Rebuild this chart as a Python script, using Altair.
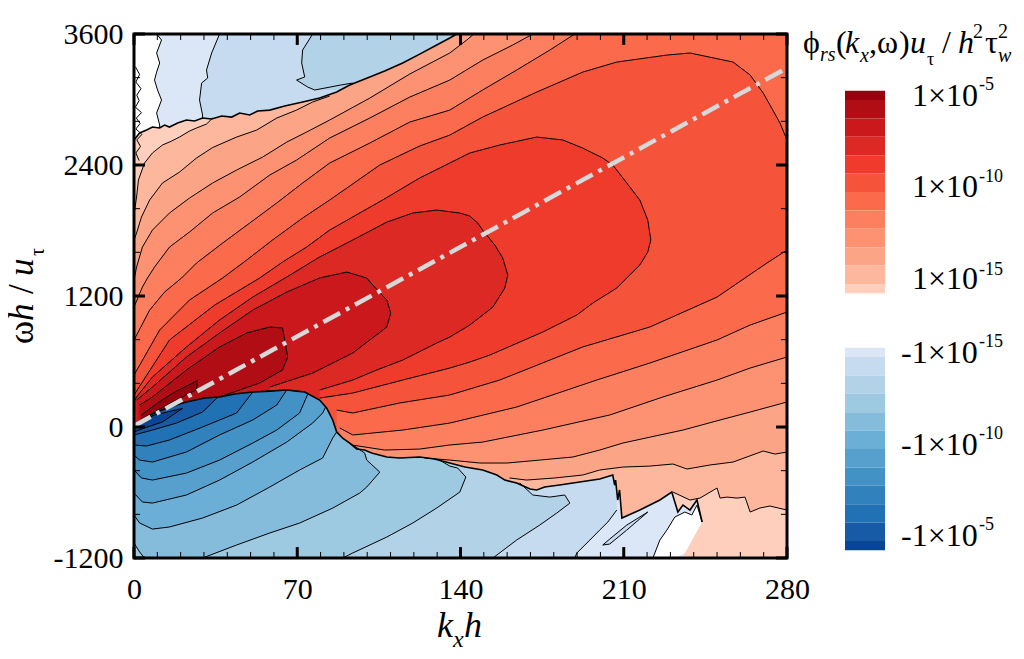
import altair as alt
import numpy as np
import pandas as pd

SERIF = "Liberation Serif"
XMIN, XMAX, YMIN, YMAX = 0, 280, -1200, 3600

X_MAJOR = [0, 70, 140, 210, 280]
X_MINOR = [10, 20, 30, 40, 50, 60, 80, 90, 100, 110, 120, 130, 150, 160, 170, 180, 190, 200, 220, 230, 240, 250, 260, 270]
Y_MAJOR = [-1200, 0, 1200, 2400, 3600]
Y_MINOR = [-800, -400, 400, 800, 1600, 2000, 2800, 3200]

RED_COLORS = ["#99000d", "#b00d14", "#cb181d", "#dc2924", "#ef3b2c", "#f6533b", "#fb6a4a", "#fc8060", "#fc9272", "#fca486", "#fcb79c", "#fdcfbc"]
BLUE_COLORS = ["#dbe6f6", "#c6dbef", "#b1d2e7", "#9ecae1", "#85bcdb", "#6baed6", "#57a0ce", "#4292c6", "#3181bd", "#2171b5", "#175ba6", "#084594"]
RED_IDS = [f"R{i}" for i in range(1, 13)]
BLUE_IDS = [f"N{i}" for i in range(12, 0, -1)]
RED_EDGES = [-4.7, -5.2, -6.2, -7.2, -8.2, -9.2, -10.2, -11.2, -12.2, -13.2, -14.2, -15.2, -15.7]
BLUE_EDGES = [-15.7, -15.2, -14.2, -13.2, -12.2, -11.2, -10.2, -9.2, -8.2, -7.2, -6.2, -5.2, -4.7]

RIDGE_X = [0, 280]
RIDGE_Y = [10, 3289]

# zero line between the upper negative patch and the positive region
TOP_X = [0, 2.4, 5.4, 7.9, 11, 13.1, 15.2, 18.7, 22.5, 26, 29.4, 33.3, 37.6, 41.9, 45.3, 49.6, 53, 58.2, 64.6, 72.3, 79.6, 86.9, 92.5, 101.1, 107.5, 115.2, 122.5, 129.8, 135.4, 138.4]
TOP_Y = [2629, 2693, 2720, 2748, 2739, 2766, 2748, 2784, 2812, 2803, 2830, 2821, 2849, 2839, 2876, 2858, 2894, 2903, 2940, 2977, 3013, 3068, 3132, 3206, 3261, 3334, 3416, 3499, 3563, 3600]
# zero line between the positive region and the lower negative region
LOW_X = [0, 6.7, 15.2, 22.5, 30.3, 36.7, 43.1, 50.9, 58.2, 65.5, 69.7, 73.2, 79.6, 82.6, 85.2, 86.9, 89.5, 92.5, 95.5, 98.9, 101.9, 108.4, 113.9, 122.5, 128.9, 135.4, 141.9, 149.5, 155.6, 159, 164.1, 169.8, 172.7, 176.1, 182.5, 191.1, 199.7, 205.3, 206.1, 206.5, 207.4, 208.2, 209.2, 216.9, 225.5, 230.6, 233.2, 235.4, 238.4, 241.4, 243.6]
LOW_Y = [27, 110, 183, 229, 265, 275, 302, 320, 329, 339, 329, 320, 247, 174, 64, -46, -101, -147, -202, -211, -238, -275, -284, -275, -293, -330, -367, -394, -440, -486, -513, -568, -577, -550, -532, -504, -477, -440, -532, -486, -669, -577, -834, -761, -669, -596, -779, -715, -761, -669, -870]

# positive contours, outermost first
A_UP_X = [0, 1.1, 1.9, 4.5, 7.9, 12.2, 16.1, 19.5, 23.8, 26.8, 31.1, 33.7]
A_UP_Y = [1942, 2107, 2262, 2418, 2510, 2583, 2619, 2656, 2711, 2739, 2775, 2830]
A_LOW_X = [231.1, 238.4, 242.7, 250, 251.3, 254.3, 258.6, 262, 264.2, 268.4, 272.7, 280]
A_LOW_Y = [-596, -669, -651, -559, -651, -642, -651, -642, -779, -742, -724, -761]
B_UP_X = [0, 1.1, 3.2, 6.7, 12.2, 19.5, 26.8, 33.7, 44, 52.6, 61.2, 69.7, 76.6, 83.9]
B_UP_Y = [1713, 1777, 1923, 2079, 2235, 2335, 2464, 2560, 2656, 2720, 2830, 2903, 2977, 3032]
B_LOW_X = [161, 168.3, 180.4, 192.4, 199.7, 209.6, 221.2, 231.1, 237.1, 247, 256.9, 269.8, 274.9, 280]
B_LOW_Y = [-467, -486, -467, -440, -394, -367, -358, -339, -385, -348, -321, -220, -248, -229]
C_UP_X = [0, 1.1, 3.6, 7.9, 15.2, 23.8, 33.7, 44, 55.2, 65.5, 74, 83.9, 101.1, 118.2, 135.4, 142.7, 145.7]
C_UP_Y = [1346, 1465, 1648, 1804, 1960, 2097, 2235, 2354, 2473, 2610, 2702, 2812, 3013, 3233, 3426, 3545, 3600]
C_LOW_X = [124.6, 135.4, 148.3, 159.9, 174, 188.2, 199.7, 209.6, 223.4, 235.4, 251.3, 264.2, 280]
C_LOW_Y = [-284, -303, -330, -330, -303, -275, -211, -147, -83, -28, 64, 137, 229]
D_UP_X = [0, 3.6, 5.8, 8.8, 15.2, 23.8, 33.7, 45.3, 58.2, 69.7, 83.9, 101.1, 118.2, 135.4, 149.5, 162.4, 171]
D_UP_Y = [1099, 1282, 1365, 1465, 1648, 1786, 1960, 2107, 2308, 2445, 2647, 2830, 3022, 3178, 3361, 3499, 3600]
D_LOW_X = [93.4, 107.5, 122.5, 135.4, 149.5, 175.3, 204, 226.8, 250, 264.2, 280]
D_LOW_Y = [-165, -211, -202, -165, -138, -28, 110, 275, 430, 540, 641]
E_UP_X = [0, 6.7, 13.1, 20.4, 26.8, 38, 49.6, 61.2, 72.3, 83.9, 101.1, 118.2, 135.4, 149.5, 164.1, 178.3, 189]
E_UP_Y = [797, 1071, 1236, 1365, 1502, 1685, 1868, 2052, 2235, 2418, 2601, 2793, 2903, 3087, 3270, 3453, 3600]
E_LOW_X = [88.2, 93.8, 115.2, 135.4, 164.1, 198.4, 221.2, 250, 264.2, 280]
E_LOW_Y = [-9, -73, -28, 36, 183, 430, 586, 797, 934, 1053]
F_UP_X = [0, 11, 23.8, 38, 48.3, 59.4, 72.3, 83.9, 105.4, 122.5, 135.4, 149.5, 172.7, 192.4, 207, 228.5, 238.4, 256.9, 264.2, 269.8, 272.7, 277, 280]
F_UP_Y = [476, 888, 1163, 1365, 1529, 1713, 1914, 2079, 2400, 2574, 2674, 2839, 3068, 3251, 3343, 3407, 3426, 3343, 3224, 3059, 2949, 2784, 2629]
F_LOW_X = [86.9, 93.8, 113.9, 135.4, 156.8, 192.4, 221.2, 250, 271.4, 280]
F_LOW_Y = [155, 128, 220, 293, 430, 733, 916, 1190, 1502, 1621]
G_UP_X = [0, 15.2, 34.6, 53.9, 63.7, 74, 83.9, 106.6, 122.5, 135.4, 144, 156.8, 172.7, 183.9, 192.4, 201, 205.3, 211.3, 216.9, 220.3, 221.6]
G_UP_Y = [293, 797, 1117, 1365, 1511, 1648, 1804, 2079, 2281, 2418, 2510, 2583, 2656, 2629, 2555, 2464, 2400, 2235, 2079, 1896, 1713]
G_LOW_X = [79.6, 93.8, 115.2, 135.4, 144, 152.6, 165.4, 175.3, 189.9, 196.7, 207, 216.9, 220.3, 221.6]
G_LOW_Y = [265, 311, 430, 540, 595, 659, 778, 870, 1026, 1135, 1273, 1484, 1603, 1713]
H_UP_X = [0, 1.1, 7.9, 22.5, 36.7, 50.9, 65.5, 79.6, 93.8, 108.4, 119.5, 129.8, 139.7, 144, 147.4, 149.5, 154.7, 158.1, 160.3]
H_UP_Y = [230, 275, 458, 733, 980, 1190, 1374, 1557, 1713, 1877, 1960, 1987, 1960, 1932, 1868, 1804, 1667, 1548, 1392]
H_LOW_X = [79.6, 93.8, 104.1, 115.2, 129.8, 135.4, 144, 153.9, 159, 160.3]
H_LOW_Y = [339, 430, 522, 613, 769, 824, 934, 1099, 1273, 1392]
I_UP_X = [1.1, 7.9, 22.5, 36.7, 50.9, 65.5, 79.6, 91.2, 99.8, 102.4, 108.4, 110.1]
I_UP_Y = [247, 366, 641, 861, 1071, 1236, 1365, 1419, 1365, 1300, 1163, 1044]
I_LOW_X = [58.2, 76.6, 93.8, 108.4, 110.1]
I_LOW_Y = [366, 494, 678, 916, 1044]
J_UP_X = [2.4, 7.9, 22.5, 36.7, 48.3, 58.2, 63.7, 64.6, 65.9]
J_UP_Y = [201, 275, 522, 733, 861, 916, 907, 797, 641]
J_LOW_X = [36.7, 53.9, 63.7, 65.9]
J_LOW_Y = [275, 403, 522, 641]
K_UP_X = [3.2, 10.1, 17.4, 26, 27.3]
K_UP_Y = [110, 220, 320, 412, 430]
K_LOW_X = [4.5, 10.1, 17.4, 23.8, 26.8, 27.3]
K_LOW_Y = [64, 155, 238, 311, 339, 430]

# lower negative contours
WHITE_UP_X = [222.5, 225.5, 228.5, 231.9, 236.2, 239.2, 241.4, 243.6]
WHITE_UP_Y = [-1200, -1035, -944, -825, -779, -806, -715, -870]
TIP_LOW_X = [235, 243.6]
TIP_LOW_Y = [-1200, -870]
L10_X = [189, 189.9, 195.5, 199.7, 203.2, 207]
L10_Y = [-1200, -1154, -1035, -944, -870, -761]
SLIVER_X = [201, 204, 211.3, 220.3]
SLIVER_UP = [-1081, -1026, -898, -779]
SLIVER_LOW = [-1081, -1072, -944, -779]
N10_UP_X = [165.4, 171, 178.3, 184.7, 186.9]
N10_UP_Y = [-513, -623, -642, -623, -697]
N10_LOW_X = [153.9, 164.1, 174, 181.3, 186.9]
N10_LOW_Y = [-1200, -1035, -898, -788, -697]
N9_UP_X = [131, 135.4, 138.8, 142.3]
N9_UP_Y = [-303, -358, -376, -458]
N9_LOW_X = [89.5, 93.8, 108.4, 119.5, 129.8, 139.7, 142.3]
N9_LOW_Y = [-1200, -1154, -1008, -880, -742, -596, -458]
N8_UP_X = [92.5, 98.9, 99.8, 105.4]
N8_UP_Y = [-147, -238, -303, -413]
N8_LOW_X = [29.4, 44, 58.2, 71, 85.2, 96.8, 99.8, 105.4]
N8_LOW_Y = [-1200, -1081, -971, -880, -743, -605, -550, -413]
CORNER_X = [0, 2.4, 4.5]
CORNER_Y = [-1063, -1145, -1200]
N7_X = [0, 2.4, 7.9, 15.2, 29.4, 44, 58.2, 71, 80.9, 85.2, 86.9]
N7_Y = [-806, -879, -935, -916, -834, -715, -550, -394, -284, -101, -46]
N6_X = [0, 3.6, 7.9, 22.5, 36.7, 50.9, 65.5, 76.6, 80.9, 82.2]
N6_Y = [-605, -687, -697, -623, -486, -321, -138, 36, 128, 184]
N5_X = [0, 3.2, 7.9, 22.5, 36.7, 50.9, 61.2, 71, 74.5]
N5_Y = [-394, -467, -486, -422, -303, -147, -28, 128, 300]
N4_X = [0, 2.4, 7.9, 22.5, 36.7, 50.9, 61.2, 65.5]
N4_Y = [-257, -303, -321, -229, -73, 64, 201, 339]
N3_X = [0, 5.4, 15.2, 29.4, 44, 50.9]
N3_Y = [-165, -174, -119, 0, 128, 320]
N2_X = [0, 7.9, 18.2, 29.4, 35.8]
N2_Y = [-73, -28, 36, 137, 270]
N1_UP_X = [0, 8.8, 20.8]
N1_UP_Y = [27, 110, 170]
N1_LOW_X = [0, 4.5, 12.2, 20.8]
N1_LOW_Y = [-46, -9, 46, 170]

# upper negative patch: left edges, read against omega
P12_Y = [3600, 3545, 3426, 3334, 3251, 3178, 3087, 2995, 2876, 2766, 2674]
P12_X = [9.7, 11.8, 9.7, 11, 9.7, 8.8, 10.1, 11.8, 9.7, 11, 11]
P11_Y = [3600, 3426, 3270, 3197, 3151, 2995, 2858, 2674]
P11_X = [36.7, 33.3, 31.1, 31.6, 29, 28.1, 29.4, 29.4]
P10_Y = [3600, 3453, 3334, 3206, 3178, 3114, 3087]
P10_X = [76.6, 72.3, 71.9, 73.2, 69.7, 74.5, 77.5]
P10_TAIL_X = [88.5, 93.8]
P10_TAIL_Y = [3132, 3151]

# speckle along the left axis
SPECK_X = [0.6, 2.4, 0.8, 3, 1.2, 2.2, 0.6, 3.2, 1, 2.6, 0.8, 3.4, 1.2, 2.8, 0.8, 2.2]
SPECK_Y = [3300, 3230, 3160, 3100, 3040, 2990, 2930, 2880, 2830, 2780, 2730, 2680, 2630, 2570, 2510, 2440]

XS = alt.Scale(domain=[XMIN, XMAX], nice=False, zero=False)
YS = alt.Scale(domain=[YMIN, YMAX], nice=False, zero=False)
COLOR = alt.Color("band:N", scale=alt.Scale(domain=RED_IDS + BLUE_IDS, range=RED_COLORS + BLUE_COLORS), legend=None)
X = alt.X("x:Q", scale=XS, axis=None)
Y = alt.Y("y:Q", scale=YS, axis=None)


def red_band(band, ux, uy, lx, ly):
    lo, hi = min(ux[0], lx[0]), max(ux[-1], lx[-1])
    xs = np.union1d(np.union1d(ux, lx), TOP_X)
    xs = np.union1d(xs, [lx[0] - 0.01])
    xs = xs[(xs >= lo) & (xs <= hi)]
    up = np.minimum(np.interp(xs, ux, uy, right=YMAX), np.interp(xs, TOP_X, TOP_Y, right=YMAX))
    low = np.interp(xs, lx, ly, left=YMIN)
    df = pd.DataFrame({"x": xs, "y": low, "y2": up, "band": band})
    return alt.Chart(df).mark_area(clip=True).encode(x=X, y=Y, y2="y2:Q", color=COLOR)


def blue_band(band, lx, ly, ux=None, uy=None, x0=0.0):
    xs = np.union1d(lx, LOW_X)
    if ux is not None:
        xs = np.union1d(xs, ux)
    xs = xs[(xs >= x0) & (xs <= lx[-1])]
    up = np.interp(xs, LOW_X, LOW_Y)
    if ux is not None:
        up = np.minimum(up, np.interp(xs, ux, uy, left=YMAX))
    low = np.interp(xs, lx, ly, left=YMIN)
    df = pd.DataFrame({"x": xs, "y": low, "y2": up, "band": band})
    return alt.Chart(df).mark_area(clip=True).encode(x=X, y=Y, y2="y2:Q", color=COLOR)


def patch(band, py, px):
    df = pd.DataFrame({"y": py, "x": px, "x2": XMAX, "band": band})
    return alt.Chart(df).mark_area(clip=True, orient="horizontal").encode(x=X, x2="x2:Q", y=Y, color=COLOR)


def lines(groups, width):
    rows = []
    for gid, (gx, gy) in enumerate(groups):
        for i, (a, b) in enumerate(zip(gx, gy)):
            rows.append({"g": gid, "i": i, "x": a, "y": b})
    return alt.Chart(pd.DataFrame(rows)).mark_line(clip=True, color="black", strokeWidth=width).encode(
        x=X, y=Y, detail="g:N", order="i:Q")


layers = [
    patch("N12", P12_Y, P12_X),
    patch("N11", P11_Y, P11_X),
    patch("N10", P10_Y, P10_X),
    lines([(P12_X, P12_Y), (P11_X, P11_Y), (P10_X + P10_TAIL_X, P10_Y + P10_TAIL_Y)], 1),
    red_band("R12", [XMIN, XMAX], [YMAX, YMAX], [XMIN, XMAX], [YMIN, YMIN]),
    red_band("R11", A_UP_X, A_UP_Y, A_LOW_X, A_LOW_Y),
    red_band("R10", B_UP_X, B_UP_Y, B_LOW_X, B_LOW_Y),
    red_band("R9", C_UP_X, C_UP_Y, C_LOW_X, C_LOW_Y),
    red_band("R8", D_UP_X, D_UP_Y, D_LOW_X, D_LOW_Y),
    red_band("R7", E_UP_X, E_UP_Y, E_LOW_X, E_LOW_Y),
    red_band("R6", F_UP_X, F_UP_Y, F_LOW_X, F_LOW_Y),
    red_band("R5", G_UP_X, G_UP_Y, G_LOW_X, G_LOW_Y),
    red_band("R4", H_UP_X, H_UP_Y, H_LOW_X, H_LOW_Y),
    red_band("R3", I_UP_X, I_UP_Y, I_LOW_X, I_LOW_Y),
    red_band("R2", J_UP_X, J_UP_Y, J_LOW_X, J_LOW_Y),
    red_band("R1", K_UP_X, K_UP_Y, K_LOW_X, K_LOW_Y),
    blue_band("N12", TIP_LOW_X, TIP_LOW_Y),
]
white_df = pd.DataFrame({"x": WHITE_UP_X, "y": YMIN, "y2": WHITE_UP_Y})
white_df["y"] = np.interp(WHITE_UP_X, TIP_LOW_X, TIP_LOW_Y, left=YMIN)
layers += [
    alt.Chart(white_df).mark_area(clip=True, color="white").encode(x=X, y=Y, y2="y2:Q"),
    alt.Chart(pd.DataFrame({"x": SLIVER_X, "y": SLIVER_LOW, "y2": SLIVER_UP, "band": "N11"})).mark_area(clip=True).encode(x=X, y=Y, y2="y2:Q", color=COLOR),
    blue_band("N11", L10_X, L10_Y),
    blue_band("N10", N10_LOW_X, N10_LOW_Y, N10_UP_X, N10_UP_Y),
    blue_band("N9", N9_LOW_X, N9_LOW_Y, N9_UP_X, N9_UP_Y),
    blue_band("N8", N8_LOW_X, N8_LOW_Y, N8_UP_X, N8_UP_Y),
    alt.Chart(pd.DataFrame({"x": CORNER_X, "y": YMIN, "y2": CORNER_Y, "band": "N9"})).mark_area(clip=True).encode(x=X, y=Y, y2="y2:Q", color=COLOR),
    blue_band("N7", N7_X, N7_Y),
    blue_band("N6", N6_X, N6_Y),
    blue_band("N5", N5_X, N5_Y),
    blue_band("N4", N4_X, N4_Y),
    blue_band("N3", N3_X, N3_Y),
    blue_band("N2", N2_X, N2_Y),
    blue_band("N1", N1_LOW_X, N1_LOW_Y, N1_UP_X, N1_UP_Y),
]

thin = [
    (A_UP_X, A_UP_Y), (A_LOW_X, A_LOW_Y), (B_UP_X, B_UP_Y), (B_LOW_X, B_LOW_Y),
    (C_UP_X, C_UP_Y), (C_LOW_X, C_LOW_Y), (D_UP_X, D_UP_Y), (D_LOW_X, D_LOW_Y),
    (E_UP_X, E_UP_Y), (E_LOW_X, E_LOW_Y), (F_UP_X, F_UP_Y), (F_LOW_X, F_LOW_Y),
    (G_UP_X, G_UP_Y), (G_LOW_X, G_LOW_Y), (H_UP_X, H_UP_Y), (H_LOW_X, H_LOW_Y),
    (I_UP_X, I_UP_Y), (I_LOW_X, I_LOW_Y), (J_UP_X, J_UP_Y), (J_LOW_X, J_LOW_Y),
    (K_UP_X, K_UP_Y), (K_LOW_X, K_LOW_Y),
    (WHITE_UP_X, WHITE_UP_Y), (L10_X, L10_Y), (SLIVER_X, SLIVER_UP), (SLIVER_X, SLIVER_LOW),
    (N10_UP_X, N10_UP_Y), (N10_LOW_X, N10_LOW_Y), (N9_UP_X, N9_UP_Y), (N9_LOW_X, N9_LOW_Y),
    (N8_UP_X, N8_UP_Y), (N8_LOW_X, N8_LOW_Y), (CORNER_X, CORNER_Y),
    (N7_X, N7_Y), (N6_X, N6_Y), (N5_X, N5_Y), (N4_X, N4_Y), (N3_X, N3_Y), (N2_X, N2_Y),
    (N1_UP_X, N1_UP_Y), (N1_LOW_X, N1_LOW_Y),
    (SPECK_X, SPECK_Y),
]
layers.append(lines(thin, 1))
layers.append(lines([(TOP_X, TOP_Y), (LOW_X, LOW_Y)], 1.6))

layers.append(
    alt.Chart(pd.DataFrame({"x": RIDGE_X, "y": RIDGE_Y})).mark_line(
        clip=True, color="#d9d9d9", strokeWidth=4.5, strokeDash=[19, 6.5, 4, 6.5]
    ).encode(x=X, y=Y)
)

# inward ticks on all four sides
tick_rows = []
for vals, xlen, ylen, w in [(X_MAJOR, 100, 0, 3), (X_MINOR, 55, 0, 1)]:
    for v in vals:
        tick_rows.append({"x": v, "x2": v, "y": YMIN, "y2": YMIN + xlen, "w": w})
        tick_rows.append({"x": v, "x2": v, "y": YMAX, "y2": YMAX - xlen, "w": w})
for vals, xlen, w in [(Y_MAJOR, 4.7, 3), (Y_MINOR, 2.6, 1)]:
    for v in vals:
        tick_rows.append({"x": XMIN, "x2": XMIN + xlen, "y": v, "y2": v, "w": w})
        tick_rows.append({"x": XMAX, "x2": XMAX - xlen, "y": v, "y2": v, "w": w})
ticks = pd.DataFrame(tick_rows)
layers.append(
    alt.Chart(ticks).mark_rule(color="black").encode(
        x=X, x2="x2:Q", y=Y, y2="y2:Q",
        strokeWidth=alt.StrokeWidth("w:Q", scale=None),
    )
)
main = alt.layer(*layers)

frame = pd.DataFrame({"x": [XMIN], "x2": [XMAX], "y": [YMIN], "y2": [YMAX]})
axis_common = dict(grid=False, domain=False, ticks=False, title=None, labelFont=SERIF, labelFontSize=30,
                   labelColor="black", labelOverlap=False, labelBound=False, labelFlush=False, labelExpr="'' + datum.value")
frame_layer = alt.Chart(frame).mark_rect(filled=False, stroke="black", strokeWidth=3).encode(
    x=alt.X("x:Q", scale=XS, axis=alt.Axis(values=X_MAJOR, labelPadding=16, **axis_common)),
    x2="x2:Q",
    y=alt.Y("y:Q", scale=YS, axis=alt.Axis(values=Y_MAJOR, labelPadding=11, **axis_common)),
    y2="y2:Q",
)


def legend_bar(ids, edges, rng):
    df = pd.DataFrame({"band": ids, "e0": edges[:-1], "e1": edges[1:], "l": 0, "r": 1})
    return alt.Chart(df).mark_rect().encode(
        x=alt.X("l:Q", scale=alt.Scale(domain=[0, 1], range=[711, 751], nice=False), axis=None),
        x2="r:Q",
        y=alt.Y("e0:Q", scale=alt.Scale(domain=[-5.2, -15.2], range=rng, nice=False, zero=False), axis=None),
        y2="e1:Q",
        color=COLOR,
    )


ONE = alt.Data(values=[{"a": 1}])


def txt(s, px, py, size, style="normal", angle=None):
    kw = dict(text=s, font=SERIF, fontSize=size, fontStyle=style, align="left", baseline="alphabetic", color="black")
    if angle is not None:
        kw["angle"] = angle
    return alt.Chart(ONE).mark_text(**kw).encode(x=alt.value(px - 134), y=alt.value(py - 34))


BIG, SUP = 32, 18
texts = [
    # x title
    txt("k", 437, 637, 36, "italic"), txt("x", 453, 647, 24, "italic"), txt("h", 464, 637, 36, "italic"),
    # y title
    txt("ω", 33, 344, 35, angle=270), txt("h", 33, 321, 35, "italic", 270), txt("/", 33, 294, 35, angle=270),
    txt("u", 33, 276, 35, "italic", 270), txt("τ", 44, 256, 20, angle=270),
    # colour bar title
    txt("ϕ", 803, 53, 32), txt("rs", 820, 61, 20, "italic"), txt("(", 836, 53, 32), txt("k", 845, 53, 32, "italic"),
    txt("x", 860, 62, 20, "italic"), txt(",", 869, 53, 32), txt("ω", 877, 53, 32), txt(")", 899, 53, 32),
    txt("u", 910, 53, 32, "italic"), txt("τ", 927, 65, 18), txt("/", 942, 53, 32), txt("h", 958, 53, 32, "italic"),
    txt("2", 973, 38, 20), txt("τ", 985, 53, 32), txt("2", 998, 38, 20), txt("w", 998, 62, 20, "italic"),
]
for sign, x0, labels in [
    ("", 912, [("-5", 106, 90), ("-10", 197, 182), ("-15", 289, 275)]),
    ("-", 901, [("-15", 363, 347), ("-10", 455, 439), ("-5", 546, 530)]),
]:
    for exp, base, sup in labels:
        texts.append(txt(sign + "1×10", x0, base, BIG))
        texts.append(txt(exp, 979, sup, SUP))

chart = alt.layer(
    main,
    frame_layer,
    legend_bar(RED_IDS, RED_EDGES, [66, 250]),
    legend_bar(BLUE_IDS, BLUE_EDGES, [507, 323]),
    *texts,
).resolve_scale(x="independent", y="independent").properties(
    width=653, height=524,
    autosize=alt.AutoSizeParams(type="none"),
    padding={"left": 126, "top": 26, "right": 229, "bottom": 93},
    background="white",
).configure_view(stroke=None)

chart.save("out.html", embed_options={"renderer": "svg", "actions": False})
